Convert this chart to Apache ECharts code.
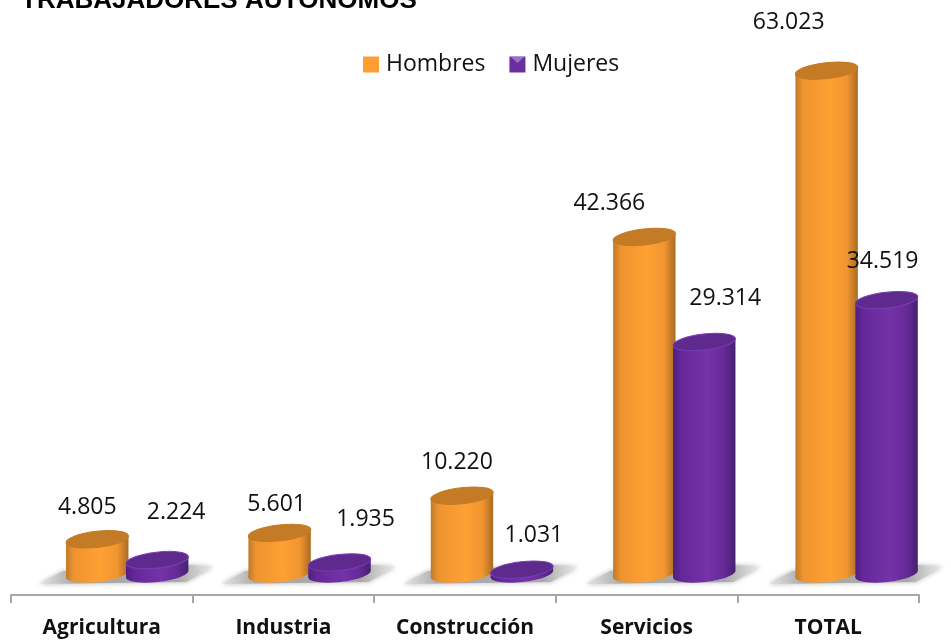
<!DOCTYPE html>
<html>
<head>
<meta charset="utf-8">
<style>
  html, body { margin: 0; padding: 0; background: #fff; }
  #chart { width: 951px; height: 643px; }
</style>
<script src="https://cdn.jsdelivr.net/npm/echarts@6/dist/echarts.min.js"></script>
</head>
<body>
<div id="chart"></div>
<script>
const categories = ['Agricultura', 'Industria', 'Construcción', 'Servicios', 'TOTAL']
const hombres = [4805, 5601, 10220, 42366, 63023]
const mujeres = [2224, 1935, 1031, 29314, 34519]

// the labels in the original were placed by hand, [dx, dy] from the top of each bar
const hombresNudge = [[-10, -32], [-3, -28], [-5, -33], [-35, -34], [-38, -48]]
const mujeresNudge = [[19, -48], [26, -43], [12, -34], [21, -44], [-4, -39]]

const FONT = '"Open Sans", sans-serif'
const TILT = 6.5 * Math.PI / 180
const BASE_LIFT = 4 // the cylinders sit slightly above the zero line
const grad = stops => new echarts.graphic.LinearGradient(0, 0, 1, 0,
  stops.map(s => ({ offset: s[0], color: s[1] })))

const palette = {
  orange: {
    body: grad([[0, '#c07a28'], [0.12, '#ee942f'], [0.55, '#ffa033'], [0.82, '#f29530'], [1, '#a96c24']]),
    top: '#c47b25',
    rim: '#c47b25'
  },
  purple: {
    body: grad([[0, '#4f2080'], [0.14, '#64289a'], [0.55, '#7433a8'], [0.82, '#652a98'], [1, '#47206f']]),
    top: '#5e2a8e',
    rim: '#7c3db4'
  }
}

const fmt = v => String(v).replace(/\B(?=(\d{3})+$)/g, '.')

function cylinder(pal, shift, nudge) {
  return function (params, api) {
    const i = api.value(0)
    const band = api.size([1, 0])[0]
    const val = api.value(1)
    const top = api.coord([i, val])
    const baseY = api.coord([i, 0])[1] - BASE_LIFT
    const r = band * 0.173
    const cx = top[0] + band * shift + i * 0.75
    const dx = r * Math.cos(TILT)
    const dy = r * Math.sin(TILT)
    const ellipse = (y, fill, stroke) => ({
      type: 'ellipse',
      x: cx,
      y: y,
      rotation: TILT,
      shape: { cx: 0, cy: 0, rx: r, ry: 8 },
      style: { fill: fill, stroke: stroke || null, lineWidth: stroke ? 1 : 0 }
    })
    return {
      type: 'group',
      children: [
        ellipse(baseY, pal.body),
        {
          type: 'polygon',
          shape: { points: [
            [cx - dx, top[1] + dy], [cx + dx, top[1] - dy],
            [cx + dx, baseY - dy], [cx - dx, baseY + dy]
          ] },
          style: { fill: pal.body }
        },
        ellipse(top[1], pal.top, pal.rim),
        {
          type: 'text',
          x: cx + nudge[i][0],
          y: top[1] + nudge[i][1],
          style: {
            text: fmt(val),
            fill: '#111',
            font: '23px ' + FONT,
            align: 'center',
            verticalAlign: 'middle'
          }
        }
      ]
    }
  }
}

// soft floor shadow under each pair of bars
function floorShadow(params, api) {
  const i = api.value(0)
  const band = api.size([1, 0])[0]
  const p = api.coord([i, 0])
  const x = p[0] + band * 0.09 + i * 0.75
  const y = p[1] - BASE_LIFT
  return {
    type: 'polygon',
    shape: { points: [[x - 79, y + 10], [x - 55, y - 3], [x + 70, y - 9], [x + 95, y - 7], [x + 68, y + 8]] },
    style: {
      fill: grad([[0, '#e6e6e6'], [0.2, '#a9a9a9'], [0.8, '#a9a9a9'], [1, '#ececec']]),
      shadowBlur: 5,
      shadowColor: 'rgba(150,150,150,0.7)'
    }
  }
}

const chart = echarts.init(document.getElementById('chart'), null, { renderer: 'canvas' })
chart.setOption({
  animation: false,
  backgroundColor: '#fff',
  title: {
    text: 'TRABAJADORES AUTÓNOMOS',
    left: 21,
    top: -12,
    padding: 0,
    textStyle: { fontFamily: '"Liberation Sans", Arial, sans-serif', fontSize: 26, fontWeight: 'bold', color: '#000' }
  },
  legend: {
    data: ['Hombres', 'Mujeres'],
    left: 358,
    top: 48,
    itemWidth: 16,
    itemHeight: 16,
    itemGap: 24,
    icon: 'rect',
    selectedMode: false,
    textStyle: { fontFamily: FONT, fontSize: 23, color: '#111', padding: [0, 0, 0, 2] }
  },
  // little bevel on the Mujeres legend swatch
  graphic: {
    elements: [{
      type: 'polygon',
      silent: true,
      z: 100,
      zlevel: 0,
      shape: { points: [[511, 57], [524, 57], [517.5, 63]] },
      style: { fill: '#9a70cc' }
    }]
  },
  grid: { left: 11, right: 32, top: 14.5, bottom: 65 },
  xAxis: {
    type: 'category',
    data: categories,
    offset: 17,
    axisLine: { onZero: false, lineStyle: { color: '#a6a6a6', width: 2 } },
    axisTick: { show: true, length: 8, alignWithLabel: false, lineStyle: { color: '#a6a6a6', width: 2 } },
    axisLabel: { margin: 23, fontFamily: FONT, fontSize: 21, fontWeight: 'bold', color: '#111', interval: 0 }
  },
  yAxis: { type: 'value', min: 0, max: 70000, show: false },
  series: [
    {
      name: 'sombra',
      type: 'custom',
      silent: true,
      clip: false,
      renderItem: floorShadow,
      encode: { x: 0, y: 1 },
      data: categories.map((c, i) => [i, 0])
    },
    {
      name: 'Hombres',
      type: 'custom',
      clip: false,
      itemStyle: { color: '#ff9c33' },
      renderItem: cylinder(palette.orange, -0.025, hombresNudge),
      encode: { x: 0, y: 1 },
      data: hombres.map((v, i) => [i, v])
    },
    {
      name: 'Mujeres',
      type: 'custom',
      clip: false,
      itemStyle: { color: '#6a2f9c' },
      renderItem: cylinder(palette.purple, 0.305, mujeresNudge),
      encode: { x: 0, y: 1 },
      data: mujeres.map((v, i) => [i, v])
    }
  ]
})
</script>
</body>
</html>
